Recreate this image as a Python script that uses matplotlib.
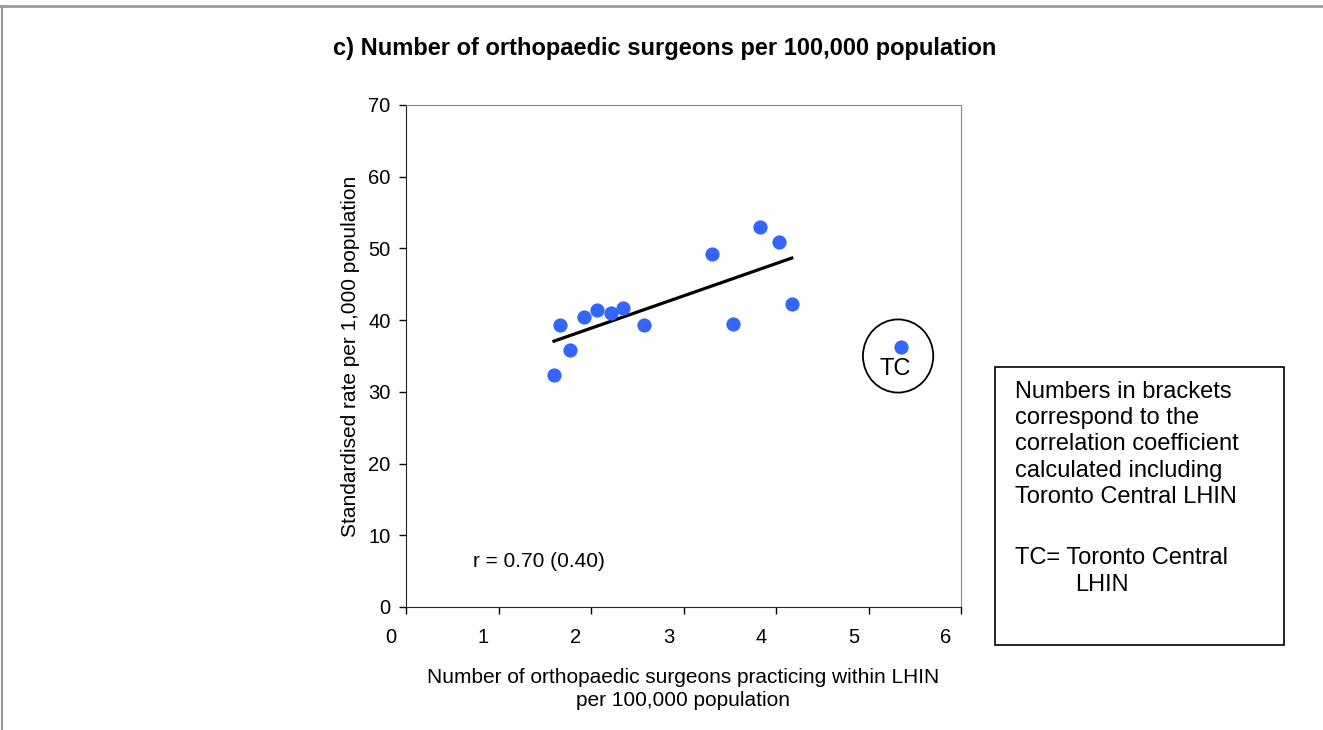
import matplotlib.pyplot as plt
import numpy as np
from matplotlib.patches import Ellipse, Rectangle
from matplotlib.lines import Line2D
from matplotlib.transforms import ScaledTranslation

plt.rcParams['font.family'] = ['Liberation Sans', 'DejaVu Sans']

# LHIN values (Toronto Central kept apart)
surgeons = [1.60, 1.67, 1.77, 1.92, 2.07, 2.22, 2.35, 2.57, 3.31, 3.53, 3.83, 4.03, 4.17]
rate = [32.3, 39.3, 35.8, 40.5, 41.4, 41.0, 41.7, 39.3, 49.2, 39.5, 53.0, 50.9, 42.2]
tc_surgeons = 5.35
tc_rate = 36.3

x_ticks = [0, 1, 2, 3, 4, 5, 6]
y_ticks = [0, 10, 20, 30, 40, 50, 60, 70]

fig = plt.figure(figsize=(13.23, 7.30), dpi=100)
ax = fig.add_axes([406 / 1323, 1 - 607 / 730, 555 / 1323, 502 / 730])

ax.scatter(surgeons, rate, s=105, color="#3366FF", zorder=3, linewidths=0)
ax.scatter([tc_surgeons], [tc_rate], s=105, color="#3366FF", zorder=3, linewidths=0)

slope, icpt = np.polyfit(surgeons, rate, 1)
xs = np.array([min(surgeons), max(surgeons)])
ax.plot(xs, slope * xs + icpt, color="black", lw=2.3, zorder=2)

ax.add_patch(Ellipse((5.32, 35.0), 0.76, 10.2, fill=False, edgecolor="black", lw=1.3))
ax.text(5.29, 33.2, "TC", ha="center", va="center", fontsize=17)
ax.text(0.72, 6.4, "r = 0.70 (0.40)", ha="left", va="center", fontsize=15)

ax.set_xlim(0, 6)
ax.set_ylim(0, 70)
ax.set_xticks(x_ticks)
ax.set_yticks(y_ticks)
ax.tick_params(labelsize=14.5, length=5, width=1, direction="out")
ax.tick_params(axis="x", pad=10)
ax.tick_params(axis="y", pad=6)
# x labels sit a bit left of their ticks, as in the source
shift = ScaledTranslation(-15 / 100, 0, fig.dpi_scale_trans)
for lab in ax.get_xticklabels():
    lab.set_transform(lab.get_transform() + shift)
for s in ["top", "right"]:
    ax.spines[s].set_color("#888888")
for s in ["left", "bottom"]:
    ax.spines[s].set_color("#222222")

ax.set_xlabel("Number of orthopaedic surgeons practicing within LHIN\nper 100,000 population",
              fontsize=15, labelpad=15, linespacing=1.3)
ax.set_ylabel("Standardised rate per 1,000 population", fontsize=15, labelpad=6)

fig.text(665 / 1323, 1 - 48 / 730, "c) Number of orthopaedic surgeons per 100,000 population",
         ha="center", va="center", fontsize=17, fontweight="bold")

# note box
fig.patches.append(Rectangle((995 / 1323, 1 - 645 / 730), 289 / 1323, 278 / 730,
                             transform=fig.transFigure, fill=False, edgecolor="black", lw=1.2))
note = ("Numbers in brackets\ncorrespond to the\ncorrelation coefficient\n"
        "calculated including\nToronto Central LHIN")
fig.text(1015 / 1323, 1 - 381 / 730, note, ha="left", va="top", fontsize=17, linespacing=1.25)
fig.text(1015 / 1323, 1 - 547 / 730, "TC= Toronto Central", ha="left", va="top", fontsize=17)
fig.text(1075 / 1323, 1 - 574 / 730, "LHIN", ha="left", va="top", fontsize=17)

# outer gray frame (top and left)
fig.lines.append(Line2D([0, 1], [1 - 6 / 730, 1 - 6 / 730], transform=fig.transFigure,
                        color="#999999", lw=2))
fig.lines.append(Line2D([1.5 / 1323, 1.5 / 1323], [0, 1 - 6 / 730], transform=fig.transFigure,
                        color="#999999", lw=1.5))

fig.savefig("out.png", dpi=100)
